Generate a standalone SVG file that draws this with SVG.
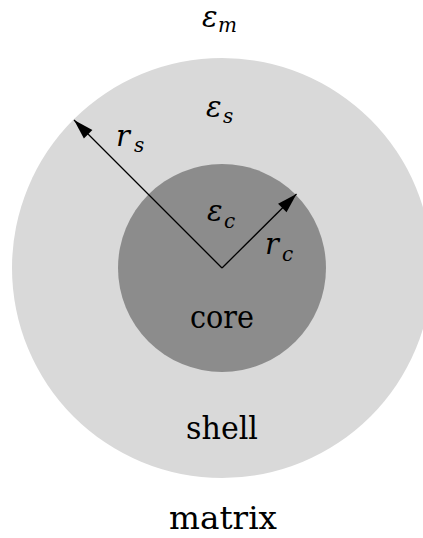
<svg xmlns="http://www.w3.org/2000/svg" width="423" height="538" viewBox="0 0 423 538">
<style>
text{font-family:'DejaVu Serif','Liberation Serif','Noto Serif',serif;fill:#000}
.word{font-size:31px;text-anchor:middle}
.math{font-style:italic;font-size:29px}
.sub{font-style:italic;font-size:20px}
.conn{stroke:#000;stroke-width:1.3;fill:none}
</style>
<defs>
<marker id="ah" markerUnits="userSpaceOnUse" viewBox="-21 -7 22 14" refX="0" refY="0" markerWidth="22" markerHeight="14" orient="auto">
<path d="M0,0 L-20,-6 L-20,6 Z" fill="#000"/>
</marker>
</defs>
<rect width="423" height="538" fill="#fff"/>
<g id="matrix">
<text class="word" x="223" y="529" textLength="108" lengthAdjust="spacingAndGlyphs">matrix</text>
<text class="math" x="202" y="27">ε</text>
<text class="sub" x="218" y="32">m</text>
</g>
<g id="shell">
<circle cx="222" cy="268" r="210" fill="#d9d9d9"/>
<text class="word" x="222" y="439" textLength="72" lengthAdjust="spacingAndGlyphs">shell</text>
<text class="math" x="206" y="117">ε</text>
<text class="sub" x="223" y="123">s</text>
</g>
<g id="core">
<circle cx="222" cy="268" r="104" fill="#8c8c8c"/>
<text class="word" x="222" y="328" textLength="64" lengthAdjust="spacingAndGlyphs">core</text>
<text class="math" x="207" y="221">ε</text>
<text class="sub" x="224" y="228">c</text>
</g>
<g id="connectors">
<line class="conn" x1="222" y1="268" x2="74" y2="120" marker-end="url(#ah)"/>
<line class="conn" x1="222" y1="268" x2="296.5" y2="194" marker-end="url(#ah)"/>
<text class="math" x="116" y="146">r</text>
<text class="sub" x="134" y="152">s</text>
<text class="math" x="265" y="254">r</text>
<text class="sub" x="282" y="261">c</text>
</g>
</svg>
